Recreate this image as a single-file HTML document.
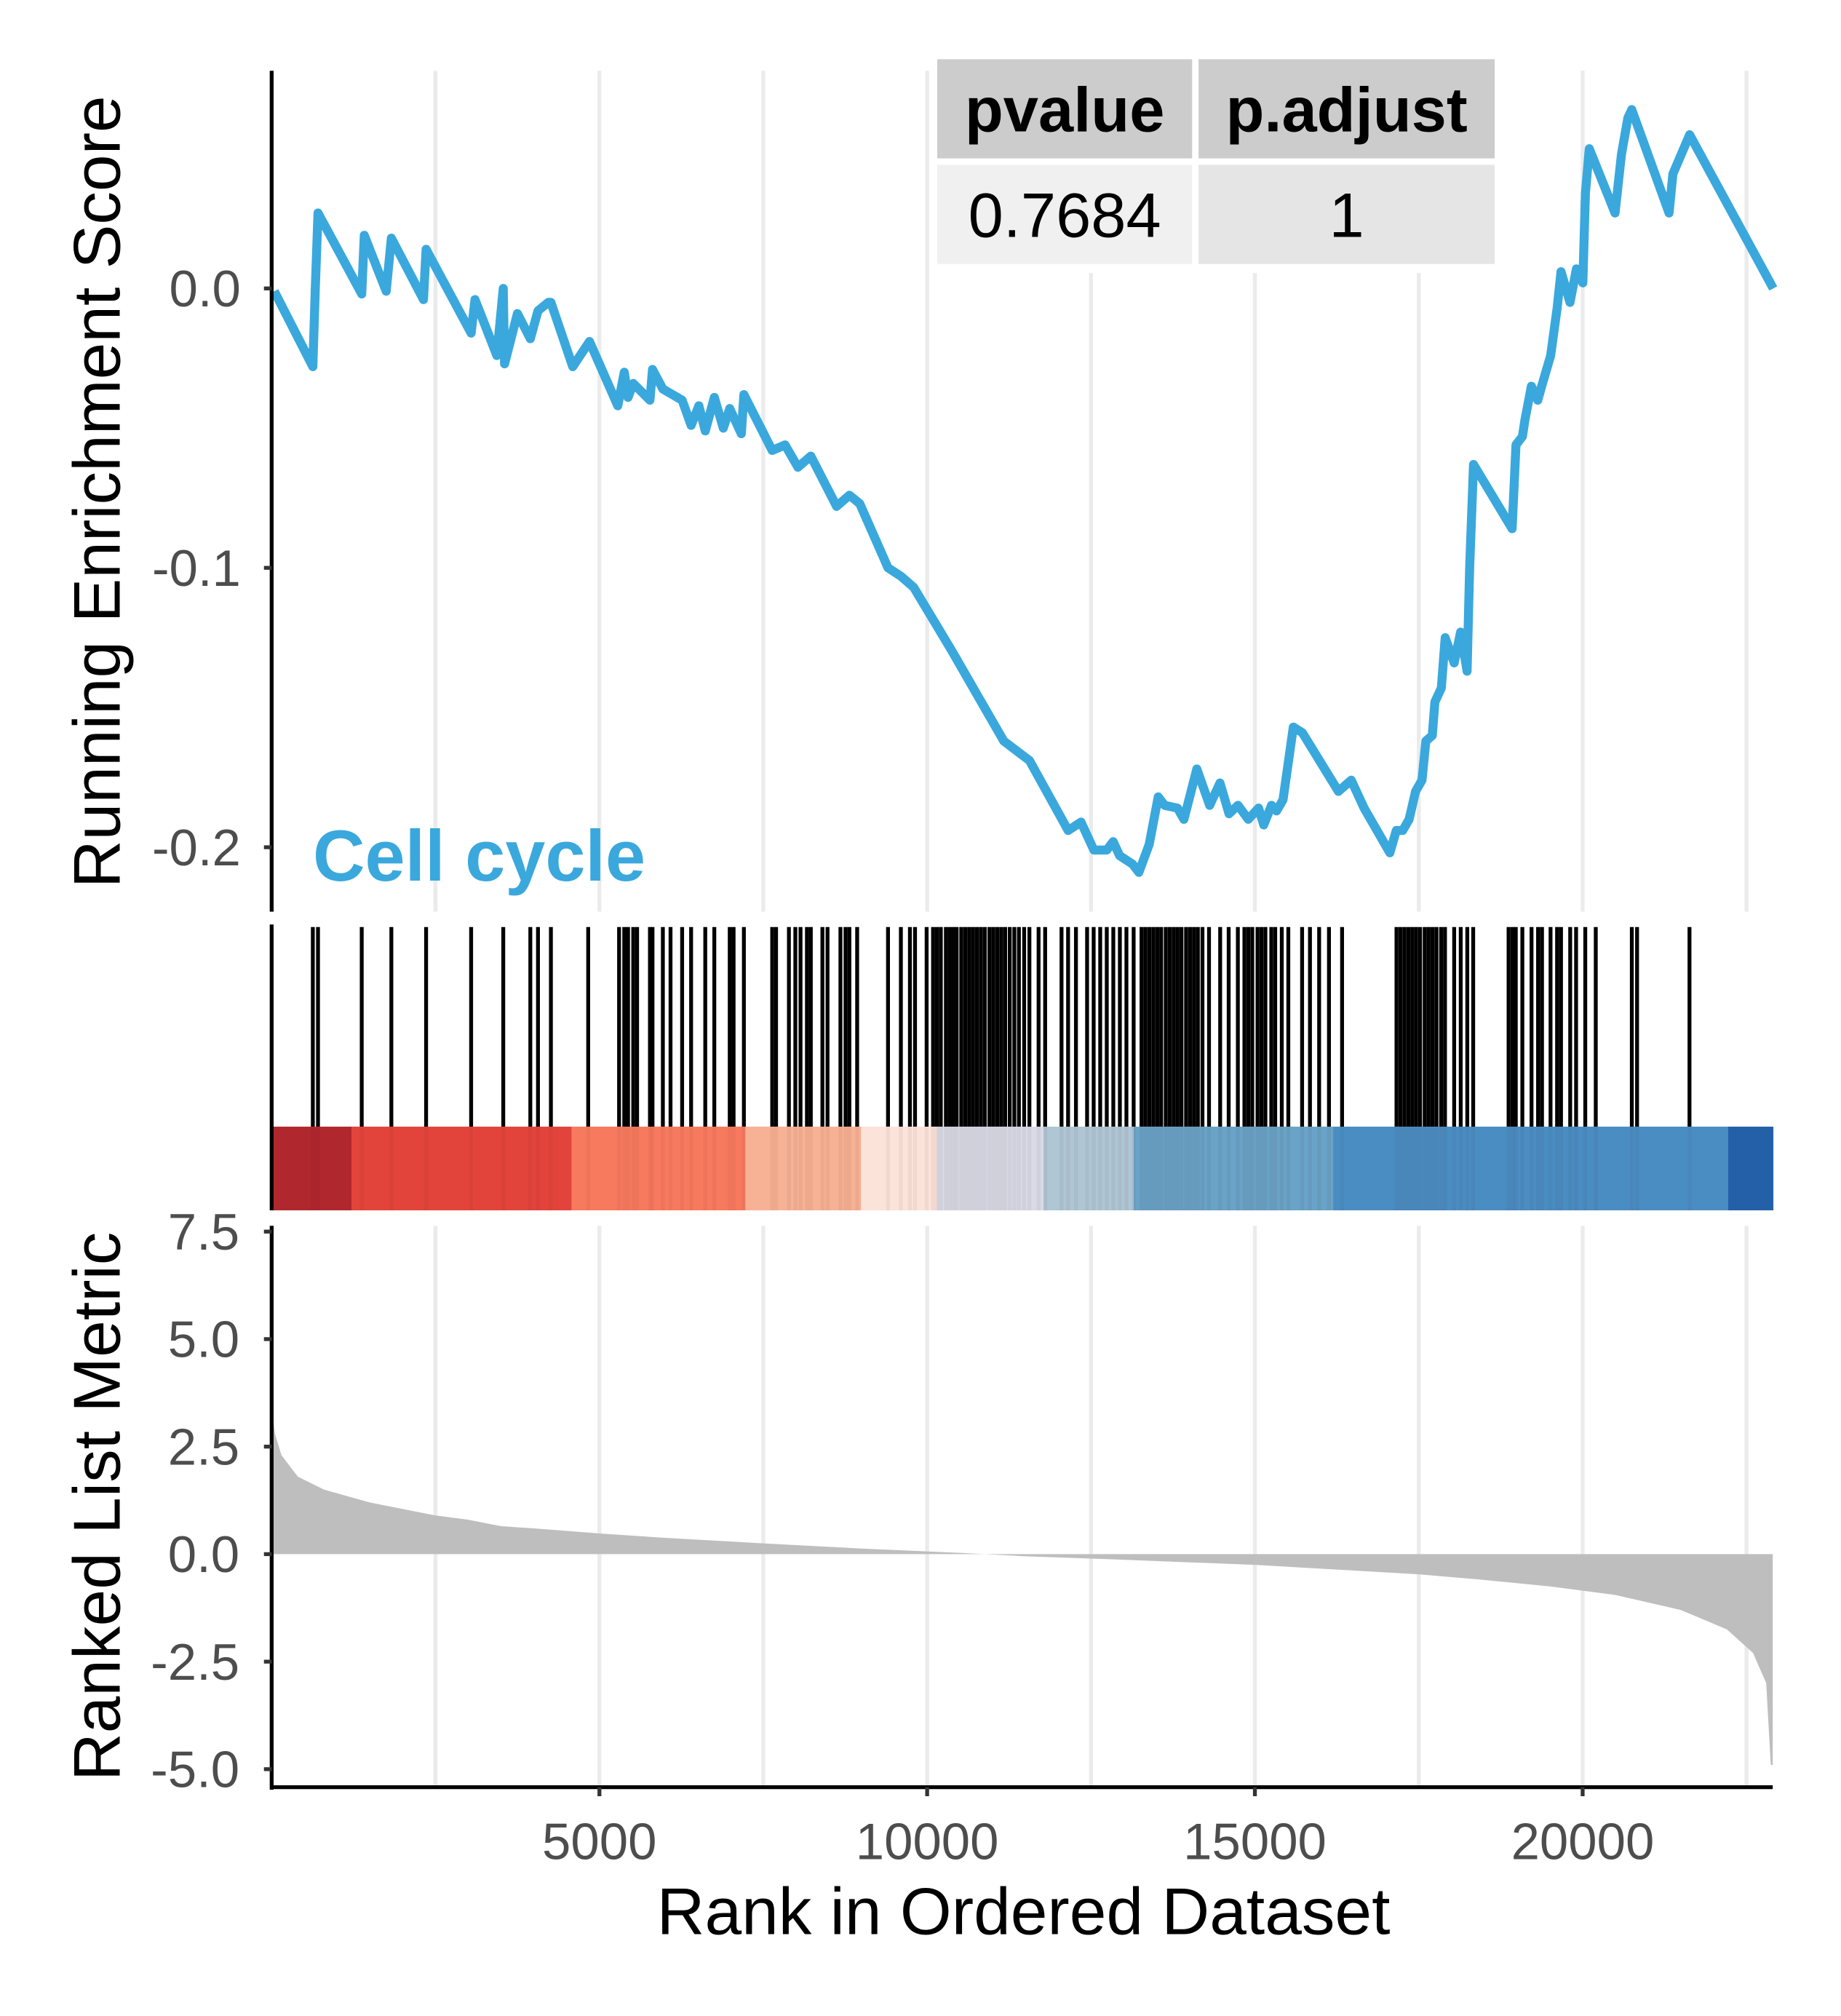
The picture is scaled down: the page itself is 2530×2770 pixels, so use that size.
<!DOCTYPE html>
<html><head><meta charset="utf-8"><style>html,body{margin:0;padding:0;background:#fff}svg{display:block}</style></head>
<body>
<svg id="chart" xmlns="http://www.w3.org/2000/svg" width="2530" height="2770" viewBox="0 0 1430 1565.7" font-family="'Liberation Sans', sans-serif">
<rect width="1430" height="1566" fill="#fff"/>
<g id="grid"></g>
<g id="band"></g>
<g id="rug"></g>
<g id="metric"></g>
<g id="es"></g>
<g id="axes"></g>
<g>
  <rect x="722" y="40" width="446" height="172" fill="#fff"/>
  <rect x="728" y="46" width="198" height="77" fill="#cccccc"/>
  <rect x="931" y="46" width="230" height="77" fill="#cccccc"/>
  <rect x="728" y="128" width="198" height="77" fill="#f0f0f0"/>
  <rect x="931" y="128" width="230" height="77" fill="#e5e5e5"/>
  <text x="827" y="102" text-anchor="middle" font-size="49" font-weight="bold" fill="#000">pvalue</text>
  <text x="1046" y="102" text-anchor="middle" font-size="49" font-weight="bold" fill="#000">p.adjust</text>
  <text x="827" y="184" text-anchor="middle" font-size="49" fill="#000">0.7684</text>
  <text x="1046" y="184" text-anchor="middle" font-size="49" fill="#000">1</text>
</g>
<text x="243" y="684" font-size="56" font-weight="bold" fill="#3aa8dc">Cell cycle</text>
<text transform="translate(93,382) rotate(-90)" text-anchor="middle" font-size="51.5" fill="#000">Running Enrichment Score</text>
<text transform="translate(93,1170) rotate(-90)" text-anchor="middle" font-size="51.5" fill="#000">Ranked List Metric</text>
<text x="795" y="1502" text-anchor="middle" font-size="51.5" fill="#000">Rank in Ordered Dataset</text>
</svg>
<script>
const esRanks=[40,628,667,707,1374,1413,1747,1826,2316,2356,3043,3102,3435,3533,3553,3749,3946,4063,4220,4260,4593,4849,5280,5379,5437,5516,5771,5810,5968,6262,6399,6517,6615,6753,6890,6988,7165,7204,7636,7832,8029,8225,8618,8814,8971,9403,9599,9795,10384,11169,11562,12151,12347,12543,12740,12838,12936,13132,13230,13387,13525,13623,13819,13917,14114,14310,14467,14605,14742,14899,15056,15135,15253,15331,15429,15586,15724,16274,16470,16666,17059,17157,17255,17353,17451,17549,17608,17706,17746,17844,17903,18040,18138,18237,18276,18335,18924,18983,19081,19120,19218,19316,19375,19512,19611,19670,19807,19905,20003,20042,20101,20494,20592,20690,20749,21318,21377,21632,22908];
const esValues=[-0.001,-0.028,0.001,0.027,-0.002,0.019,-0.001,0.018,-0.004,0.014,-0.016,-0.004,-0.024,0.000,-0.027,-0.009,-0.018,-0.008,-0.005,-0.005,-0.028,-0.019,-0.042,-0.030,-0.039,-0.034,-0.040,-0.029,-0.036,-0.040,-0.049,-0.042,-0.051,-0.039,-0.050,-0.043,-0.052,-0.038,-0.058,-0.056,-0.064,-0.060,-0.078,-0.074,-0.077,-0.100,-0.103,-0.107,-0.130,-0.162,-0.169,-0.194,-0.191,-0.201,-0.201,-0.198,-0.203,-0.206,-0.209,-0.199,-0.182,-0.185,-0.186,-0.190,-0.172,-0.185,-0.177,-0.188,-0.185,-0.190,-0.186,-0.192,-0.185,-0.187,-0.183,-0.157,-0.159,-0.180,-0.176,-0.186,-0.202,-0.194,-0.194,-0.190,-0.180,-0.176,-0.162,-0.160,-0.148,-0.143,-0.125,-0.134,-0.123,-0.137,-0.100,-0.063,-0.086,-0.056,-0.053,-0.047,-0.035,-0.040,-0.035,-0.024,-0.007,0.006,-0.005,0.007,0.002,0.034,0.050,0.027,0.048,0.061,0.064,0.027,0.041,0.055,0.000];
const hitRanks=[628,707,1374,1826,2356,3043,3533,3946,4063,4260,4829,5300,5379,5437,5516,5575,5771,5810,5968,6085,6262,6399,6615,6753,6988,7047,7204,7636,7695,7891,7989,8068,8166,8225,8402,8480,8677,8755,8814,8932,9403,9599,9737,9815,9992,10090,10149,10208,10286,10345,10400,10450,10520,10580,10640,10700,10760,10820,10880,10950,11010,11070,11130,11190,11260,11330,11400,11480,11560,11700,11800,12050,12150,12270,12440,12540,12640,12740,12840,12940,13040,13150,13270,13330,13390,13450,13510,13570,13640,13700,13760,13820,13880,13950,14010,14070,14130,14200,14300,14470,14600,14740,14840,14900,14960,15040,15100,15160,15250,15310,15410,15510,15720,15840,15980,16130,16330,17160,17220,17280,17340,17400,17460,17520,17590,17650,17710,17770,17840,17900,18040,18140,18240,18330,18870,18930,18980,19080,19220,19320,19380,19510,19610,19670,19810,19900,20040,20200,20750,20830,21630];
const bandBreaks=[0,1217,4574,7224,8991,10149,11778,13152,16195,22220,22900];
const bandColors=['#b0282e','#e2443c','#f87a5e','#f7b195','#fbe3da','#d8dbe6','#afc6d4','#6aa3c8','#4a8dc3','#2460a7'];
const metricRanks=[0,20,50,150,400,800,1500,2500,3000,3500,4000,5000,6000,7500,9000,10500,11500,13000,15000,16500,17500,18500,19500,20500,21500,22200,22600,22800,22870,22900];
const metricValues=[3.7,3.2,2.8,2.3,1.8,1.5,1.2,0.9,0.8,0.65,0.6,0.48,0.38,0.25,0.13,0.03,-0.05,-0.13,-0.25,-0.38,-0.47,-0.6,-0.75,-0.95,-1.3,-1.75,-2.3,-3.0,-4.9,-4.9];
const xTicks=[5000,10000,15000,20000];
const xGrid=[2500,5000,7500,10000,12500,15000,17500,20000,22500];
const esTicks=[0,-0.1,-0.2];
const esTickLabels=['0.0','-0.1','-0.2'];
const metricTicks=[7.5,5,2.5,0,-2.5,-5];
const metricTickLabels=['7.5','5.0','2.5','0.0','-2.5','-5.0'];
const NS='http://www.w3.org/2000/svg';
const X0=211,X1=1377,RMAX=22900;
const xs=r=>X0+(r/RMAX)*(X1-X0);
const ys=v=>224-v*2170;
const ym=v=>1207-v*33.4;
function mk(tag,attrs,parent){const e=document.createElementNS(NS,tag);for(const k in attrs)e.setAttribute(k,attrs[k]);parent.appendChild(e);return e;}
const grid=document.getElementById('grid');
xGrid.forEach(r=>{
  const l=mk('line',{x1:xs(r),x2:xs(r),y1:55,y2:708,stroke:'#ebebeb','stroke-width':3},grid);
  
  
  const l2=mk('line',{x1:xs(r),x2:xs(r),y1:952,y2:1388,stroke:'#ebebeb','stroke-width':3},grid);
  
  
});
const band=document.getElementById('band');
bandColors.forEach((c,i)=>{
  const r=mk('rect',{x:xs(bandBreaks[i]),y:875,width:xs(bandBreaks[i+1])-xs(bandBreaks[i])+0.5,height:65,fill:c},band);
  
  
});
const rug=document.getElementById('rug');
hitRanks.forEach(h=>{
  const l=mk('line',{x1:xs(h),x2:xs(h),y1:720,y2:875,stroke:'#000','stroke-width':3},rug);
  
  
  const d=mk('line',{x1:xs(h),x2:xs(h),y1:875,y2:940,stroke:'rgba(60,20,20,0.05)','stroke-width':3},rug);
  
  
});
const met=document.getElementById('metric');
let d='M'+xs(metricRanks[0])+','+ym(0);
metricRanks.forEach((r,i)=>{d+=' L'+xs(r)+','+ym(metricValues[i]);});
d+=' L'+xs(metricRanks[metricRanks.length-1])+','+ym(0)+' Z';
const area=mk('path',{d:d,fill:'#bebebe'},met);


const es=document.getElementById('es');
const pts=esRanks.map((r,i)=>xs(r)+','+ys(esValues[i])).join(' ');
const line=mk('polyline',{points:pts,fill:'none',stroke:'#3aa8dc','stroke-width':7,'stroke-linejoin':'round'},es);


const ax=document.getElementById('axes');
const a1=mk('line',{x1:X0,x2:X0,y1:55,y2:708,stroke:'#000','stroke-width':3},ax);


const a2=mk('line',{x1:X0,x2:X0,y1:718,y2:940,stroke:'#000','stroke-width':3},ax);


const a3=mk('line',{x1:X0,x2:X0,y1:952,y2:1390,stroke:'#000','stroke-width':3},ax);


const a4=mk('line',{x1:X0-1,x2:X1,y1:1388,y2:1388,stroke:'#000','stroke-width':3},ax);


esTicks.forEach((v,i)=>{
  const t=mk('line',{x1:X0-6,x2:X0,y1:ys(v),y2:ys(v),stroke:'#333','stroke-width':3},ax);
  
  
  const l=mk('text',{x:X0-24,y:ys(v)+14,'text-anchor':'end','font-size':40,fill:'#4d4d4d'},ax);
  l.textContent=esTickLabels[i];
  
  
});
metricTicks.forEach((v,i)=>{
  const t=mk('line',{x1:X0-6,x2:X0,y1:ym(v),y2:ym(v),stroke:'#333','stroke-width':3},ax);
  
  
  const l=mk('text',{x:X0-25,y:ym(v)+14,'text-anchor':'end','font-size':40,fill:'#4d4d4d'},ax);
  l.textContent=metricTickLabels[i];
  
  
});
xTicks.forEach(v=>{
  const t=mk('line',{x1:xs(v),x2:xs(v),y1:1388,y2:1395,stroke:'#333','stroke-width':3},ax);
  
  
  const l=mk('text',{x:xs(v),y:1444,'text-anchor':'middle','font-size':40,fill:'#4d4d4d'},ax);
  l.textContent=String(v);
  
  
});
</script>
</body></html>
